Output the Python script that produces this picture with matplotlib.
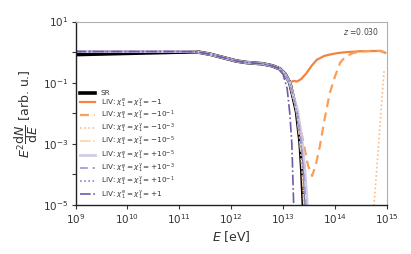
import numpy as np
import matplotlib
matplotlib.use("Agg")
import matplotlib.pyplot as plt

# ---- data (log10 E [eV], log10 E^2 dN/dE) ----
sr_logE = [9.0, 9.5, 10.0, 10.5, 11.0, 11.34, 11.6, 11.85, 12.1, 12.3, 12.6, 12.8, 12.94, 13.04, 13.13, 13.2, 13.26, 13.33, 13.36, 13.40]
sr_logY = [-0.08, -0.06, -0.04, -0.02, 0.0, 0.01, -0.07, -0.18, -0.29, -0.34, -0.38, -0.45, -0.55, -0.72, -1.0, -1.5, -1.95, -2.97, -3.8, -5.3]

base_logE = [9.0, 9.5, 10.0, 10.5, 11.0, 11.34, 11.6, 11.85, 12.1, 12.3, 12.6, 12.8, 12.94, 13.04, 13.13]
base_logY = [0.02, 0.02, 0.02, 0.02, 0.02, 0.01, -0.07, -0.18, -0.29, -0.34, -0.38, -0.45, -0.55, -0.72, -1.0]

m1_logE = [13.2, 13.27, 13.35, 13.45, 13.55, 13.65, 13.8, 13.9, 14.05, 14.22, 14.5, 14.87, 14.97]
m1_logY = [-0.94, -0.96, -0.88, -0.69, -0.45, -0.25, -0.12, -0.08, -0.03, 0.0, 0.03, 0.04, -0.02]

m01_logE = [13.2, 13.3, 13.4, 13.48, 13.56, 13.63, 13.71, 13.8, 13.9, 14.0, 14.1, 14.2, 14.35, 14.5, 14.7, 14.9, 14.97]
m01_logY = [-1.45, -2.2, -3.0, -3.7, -4.05, -3.7, -3.08, -2.2, -1.35, -0.8, -0.35, -0.15, -0.03, 0.02, 0.04, 0.04, -0.02]

m3_logE = [13.2, 13.26, 13.33, 13.37, 13.42]
m3_logY = [-1.5, -1.95, -2.97, -3.9, -5.3]
m3_rec_logE = [14.74, 14.8, 14.85, 14.9, 14.95]
m3_rec_logY = [-5.3, -4.0, -2.87, -1.7, -0.58]

m5_logE = [13.2, 13.26, 13.33, 13.37, 13.41]
m5_logY = [-1.5, -1.95, -2.97, -3.9, -5.3]

p5_logE = [13.2, 13.28, 13.36, 13.42, 13.48]
p5_logY = [-1.45, -1.9, -2.8, -3.8, -5.3]

p3_logE = [13.2, 13.27, 13.35, 13.40, 13.45]
p3_logY = [-1.48, -1.92, -2.9, -3.9, -5.3]

p1_logE = [13.2, 13.26, 13.34, 13.38, 13.43]
p1_logY = [-1.5, -1.95, -2.95, -3.9, -5.3]

pp1_logE = [12.9, 13.0, 13.08, 13.13, 13.17, 13.21]
pp1_logY = [-0.52, -0.72, -1.2, -2.0, -3.0, -5.3]

labels = ["SR",
          r"LIV: $\chi_1^{\rm e} = \chi_1^{\gamma} = -1$",
          r"LIV: $\chi_1^{\rm e} = \chi_1^{\gamma} = -10^{-1}$",
          r"LIV: $\chi_1^{\rm e} = \chi_1^{\gamma} = -10^{-3}$",
          r"LIV: $\chi_1^{\rm e} = \chi_1^{\gamma} = -10^{-5}$",
          r"LIV: $\chi_1^{\rm e} = \chi_1^{\gamma} = +10^{-5}$",
          r"LIV: $\chi_1^{\rm e} = \chi_1^{\gamma} = +10^{-3}$",
          r"LIV: $\chi_1^{\rm e} = \chi_1^{\gamma} = +10^{-1}$",
          r"LIV: $\chi_1^{\rm e} = \chi_1^{\gamma} = +1$"]

colors = ["black", "#f4843d", "#f89f5b", "#fbbb88", "#fdd3a8",
          "#cfcde6", "#a9a4d2", "#8d85c1", "#6f5aa8"]
styles = ["-", "-", (0, (4, 2.5)), (0, (1, 1.5)), "-.", "-", (0, (4, 2.5)), (0, (1, 1.5)), "-."]
widths = [2.6, 1.6, 1.6, 1.2, 1.2, 2.0, 1.4, 1.2, 1.2]

def cat(a, b):
    return np.array(list(a) + list(b))

series = [
    [(np.array(sr_logE), np.array(sr_logY))],
    [(cat(base_logE, m1_logE), cat(base_logY, m1_logY))],
    [(cat(base_logE, m01_logE), cat(base_logY, m01_logY))],
    [(cat(base_logE, m3_logE), cat(base_logY, m3_logY)),
     (np.array(m3_rec_logE), np.array(m3_rec_logY))],
    [(cat(base_logE, m5_logE), cat(base_logY, m5_logY))],
    [(cat(base_logE, p5_logE), cat(base_logY, p5_logY))],
    [(cat(base_logE, p3_logE), cat(base_logY, p3_logY))],
    [(cat(base_logE, p1_logE), cat(base_logY, p1_logY))],
    [(cat(base_logE[:-2], pp1_logE), cat(base_logY[:-2], pp1_logY))],
]

fig = plt.figure(figsize=(4.11, 2.54), dpi=100)
ax = fig.add_axes([0.184, 0.193, 0.757, 0.722])

for parts, lab, c, ls, lw in zip(series, labels, colors, styles, widths):
    for i, (lx, ly) in enumerate(parts):
        ax.plot(10**lx, 10**ly, color=c, ls=ls, lw=lw, label=lab if i == 0 else None)

ax.set_xscale("log")
ax.set_yscale("log")
ax.set_xlim(1e9, 1e15)
ax.set_ylim(1e-5, 1e1)
ax.set_xticks([10.0**k for k in range(9, 16)])
ax.set_yticks([10.0**k for k in range(-5, 2)])
ax.set_yticklabels([r"$10^{%d}$" % k if k % 2 == 1 else "" for k in range(-5, 2)])
ax.minorticks_off()
ax.tick_params(labelsize=7.5, length=3, width=0.8, colors="#333333", pad=2.5)
for s in ["top", "right"]:
    ax.spines[s].set_color("#b0b0b0")
    ax.spines[s].set_linewidth(0.8)
for s in ["left", "bottom"]:
    ax.spines[s].set_color("#222222")
    ax.spines[s].set_linewidth(1.0)

ax.set_xlabel(r"$E$ [eV]", fontsize=9, color="#333333", labelpad=2)
ax.set_ylabel(r"$E^2\dfrac{\mathrm{d}N}{\mathrm{d}E}$ [arb. u.]", fontsize=9, color="#333333", labelpad=2)

ax.text(0.975, 0.975, r"$z$ =0.030", transform=ax.transAxes, ha="right", va="top",
        fontsize=5.5, color="#444444")

leg = ax.legend(loc="lower left", fontsize=5.2, frameon=False, handlelength=2.1,
                labelspacing=0.0, borderaxespad=0.2, handletextpad=0.8)
for t in leg.get_texts():
    t.set_color("#333333")

fig.savefig("out.png", dpi=100)
